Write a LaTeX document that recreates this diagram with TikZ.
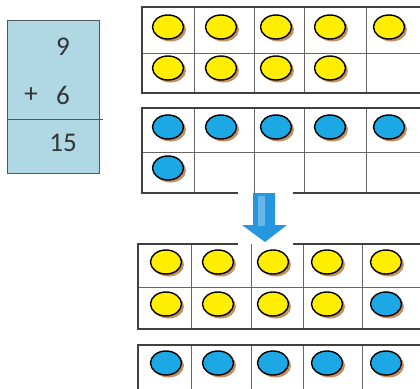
\documentclass[tikz,border=0pt]{standalone}
\usepackage{fontspec}
\setmainfont{Carlito}
\usepackage{tikz}
\definecolor{sumfill}{RGB}{176,216,228}
\definecolor{sumdraw}{RGB}{80,88,92}
\definecolor{dotyellow}{RGB}{255,238,0}
\definecolor{dotblue}{RGB}{28,168,228}
\definecolor{dotbrown}{RGB}{176,104,48}
\definecolor{arrowblue}{RGB}{38,150,222}
\tikzset{
  sumbox/.style={draw=sumdraw, fill=sumfill, line width=1pt},
  sumline/.style={draw=sumdraw, line width=1pt},
  sumtext/.style={font=\fontsize{27}{27}\selectfont, text=black!80, inner sep=0pt},
  frameline/.style={draw=black!75, line width=1.6pt},
  cellline/.style={draw=black!60, line width=0.7pt},
  dotshadow/.style={fill=dotbrown, opacity=0.75},
  dot/.style={draw=black, line width=1.4pt}
}

\begin{document}
\begin{tikzpicture}[x=1pt,y=-1pt]
  \useasboundingbox (0,0) rectangle (420,388);
  % sum
  \draw[sumbox] (7,20) rectangle (99,173);
  \draw[sumline] (7,119) -- (103,119);
  \node[sumtext] (nine) at (63,47) {9};
  \node[sumtext] (plus) at (31,95) {+};
  \node[sumtext] (six) at (63,95) {6};
  \node[sumtext] (sum) at (63,143) {15};
  % frame with nine
  \foreach \x in {194,254,304,366}
    \draw[cellline] (\x,7) -- (\x,93);
  \draw[cellline] (142,53) -- (420,53);
  \draw[frameline] (420,7) -- (142,7) -- (142,93) -- (420,93);
  % frame with six
  \foreach \x in {194,254,304,366}
    \draw[cellline] (\x,108) -- (\x,193);
  \draw[cellline] (142,152) -- (420,152);
  \draw[frameline] (420,108) -- (142,108) -- (142,193) -- (238,193);
  \draw[frameline] (293,193) -- (420,193);
  % arrow
  \fill[arrowblue] (253,193) -- (275,193) -- (275,225) -- (287,225)
    -- (265,242) -- (242,225) -- (253,225) -- cycle;
  \fill[arrowblue!70!white] (258,196) rectangle (265,226);
  % full ten
  \foreach \x in {191,251,303,362}
    \draw[cellline] (\x,244) -- (\x,329);
  \draw[cellline] (138,287) -- (420,287);
  \draw[frameline] (238,244) -- (138,244) -- (138,329) -- (420,329);
  \draw[frameline] (293,244) -- (420,244);
  % the five left
  \foreach \x in {191,251,303,362}
    \draw[cellline] (\x,345) -- (\x,390);
  \draw[frameline] (420,345) -- (138,345) -- (138,390);
  % counters
  \foreach \x/\y/\c in {168/27/dotyellow,221/27/dotyellow,276/27/dotyellow,330/27/dotyellow,389/27/dotyellow,
      168/68/dotyellow,221/68/dotyellow,276/68/dotyellow,330/68/dotyellow,
      168/127/dotblue,221/127/dotblue,276/127/dotblue,330/127/dotblue,389/127/dotblue,
      168/168/dotblue,
      166/262/dotyellow,218/262/dotyellow,273/262/dotyellow,327/262/dotyellow,386/262/dotyellow,
      166/304/dotyellow,218/304/dotyellow,273/304/dotyellow,327/304/dotyellow,386/304/dotblue,
      166/363/dotblue,218/363/dotblue,273/363/dotblue,327/363/dotblue,386/363/dotblue} {
    \fill[dotshadow] (\x+2.5,\y+2.5) ellipse (15.5pt and 12pt);
    \filldraw[dot, fill=\c] (\x,\y) ellipse (15.5pt and 12pt);
  }
\end{tikzpicture}
\end{document}
